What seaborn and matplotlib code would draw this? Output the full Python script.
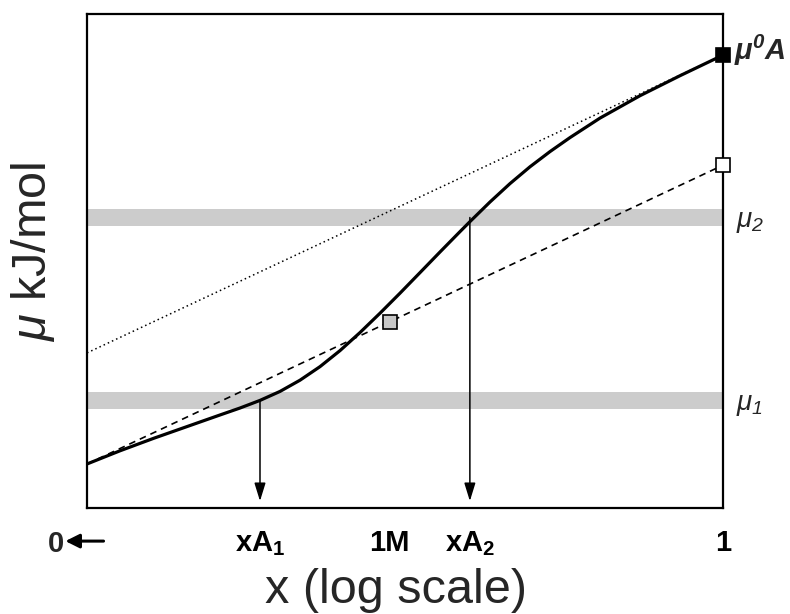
import matplotlib
matplotlib.use("Agg")
import matplotlib.pyplot as plt
import matplotlib.transforms as mtransforms
import seaborn as sns
import pandas as pd

# chemical potential curve (x on a 0-100 log-position scale, mu on 0-100)
curve_x = [0.0, 5.19, 10.53, 15.72, 20.91, 24.06, 27.20, 30.35, 33.49, 36.64,
           39.78, 42.92, 46.07, 49.21, 52.36, 55.50, 58.65, 60.22, 63.36,
           66.51, 69.65, 72.80, 75.94, 80.66, 86.95, 93.24, 100.0]
curve_y = [8.91, 11.58, 14.13, 16.48, 18.83, 20.24, 21.78, 23.60, 25.87, 28.62,
           31.86, 35.51, 39.43, 43.48, 47.65, 51.82, 55.95, 57.98, 61.94,
           65.67, 69.07, 72.15, 74.98, 78.93, 83.46, 87.51, 91.68]

# Henry's law (dashed) and Raoult's law (dotted) reference lines
henry_x = [0, 100]
henry_y = [8.9, 69.4]
raoult_x = [0, 100]
raoult_y = [31.4, 91.7]

# reference points
one_m = 47.6
mu_ref = 37.7
mu0_pure = 91.7

# chemical potential levels and their mole fractions
mu_levels = [21.8, 58.8]
mu_labels = [r"$\mu_{\mathsf{1}}$", r"$\mu_{\mathsf{2}}$"]
xa_values = [27.2, 60.2]

tick_pos = [xa_values[0], one_m, xa_values[1], 100]
tick_labels = [r"xA$_\mathbf{1}$", "1M", r"xA$_\mathbf{2}$", "1"]

sns.set_style("white")
plt.rcParams["font.family"] = ["Liberation Sans", "DejaVu Sans"]
plt.rcParams["mathtext.fontset"] = "custom"
plt.rcParams["mathtext.rm"] = "Liberation Sans"
plt.rcParams["mathtext.it"] = "Liberation Sans:italic"
plt.rcParams["mathtext.sf"] = "Liberation Sans:italic"
plt.rcParams["mathtext.bf"] = "Liberation Sans:bold"
plt.rcParams["mathtext.bfit"] = "Liberation Sans:bold:italic"

fig = plt.figure(figsize=(7.9, 6.14), dpi=100)
ax = fig.add_axes([87 / 790, 106 / 614, 636 / 790, 494 / 614])

band_half = 1.72
for lvl in mu_levels:
    ax.axhspan(lvl - band_half, lvl + band_half, color="#cccccc", lw=0, zorder=0)

sns.lineplot(x=raoult_x, y=raoult_y, ax=ax, color="black", lw=1.1,
             linestyle=(0, (1, 2)))
sns.lineplot(x=henry_x, y=henry_y, ax=ax, color="black", lw=1.2,
             linestyle=(0, (4, 3)))
curve = pd.DataFrame({"x": curve_x, "mu": curve_y})
sns.lineplot(data=curve, x="x", y="mu", ax=ax, color="black", lw=2.3,
             sort=False, estimator=None, zorder=4)

# arrows from the curve down to the axis
for xa, lvl in zip(xa_values, mu_levels):
    ax.annotate("", xy=(xa, 1.4), xytext=(xa, lvl),
                arrowprops=dict(arrowstyle="-|>,head_length=0.55,head_width=0.17",
                                color="black", lw=1.1, mutation_scale=20,
                                shrinkA=0, shrinkB=0))

ax.plot([one_m], [mu_ref], marker="s", ms=9.5, mfc="#c8c8c8", mec="black",
        mew=1.2, ls="none", zorder=5)
ax.plot([100], [henry_y[1]], marker="s", ms=9.5, mfc="white", mec="black",
        mew=1.2, ls="none", zorder=5, clip_on=False)
ax.plot([100], [mu0_pure], marker="s", ms=9.5, mfc="black", mec="black",
        mew=1.2, ls="none", zorder=5, clip_on=False)

ax.set_xlim(0, 100)
ax.set_ylim(0, 100)
ax.set_yticks([])
ax.set_xticks(tick_pos)
ax.set_xticklabels(tick_labels, fontsize=21, fontweight="bold")
ax.tick_params(axis="x", direction="out", length=6, width=1.2, pad=9,
               colors="black")
for i in (0, 2):
    ax.xaxis.get_major_ticks()[i].tick1line.set_visible(False)

for side in ax.spines.values():
    side.set_linewidth(1.6)
    side.set_color("black")

# "0 <-" marker left of the axis
trans = mtransforms.blended_transform_factory(ax.transData, ax.transAxes)
ax.text(-4.9, -0.044, "0", transform=trans, ha="center", va="top",
        fontsize=21, fontweight="bold")
ax.annotate("", xy=(-3.4, -0.067), xytext=(2.6, -0.067), xycoords=trans,
            textcoords=trans, annotation_clip=False,
            arrowprops=dict(arrowstyle="-|>,head_length=0.6,head_width=0.3",
                            color="black", lw=2.2, mutation_scale=14,
                            shrinkA=0, shrinkB=0))

# labels on the right side
ax.text(101.8, mu0_pure + 1.0, r"$\mathbfit{\mu^0A}$", ha="left", va="center",
        fontsize=21)
for lvl, lab in zip(mu_levels, mu_labels):
    ax.text(102.0, lvl - 1.0, lab, ha="left", va="center", fontsize=20)

ax.set_xlabel("x (log scale)", fontsize=35)
ax.xaxis.label.set_verticalalignment("baseline")
ax.xaxis.set_label_coords(0.486, -0.192)
ax.set_ylabel(r"$\mu$ kJ/mol", fontsize=35)
ax.yaxis.set_label_coords(-0.047, 0.518)

fig.savefig("out.png", dpi=100)
